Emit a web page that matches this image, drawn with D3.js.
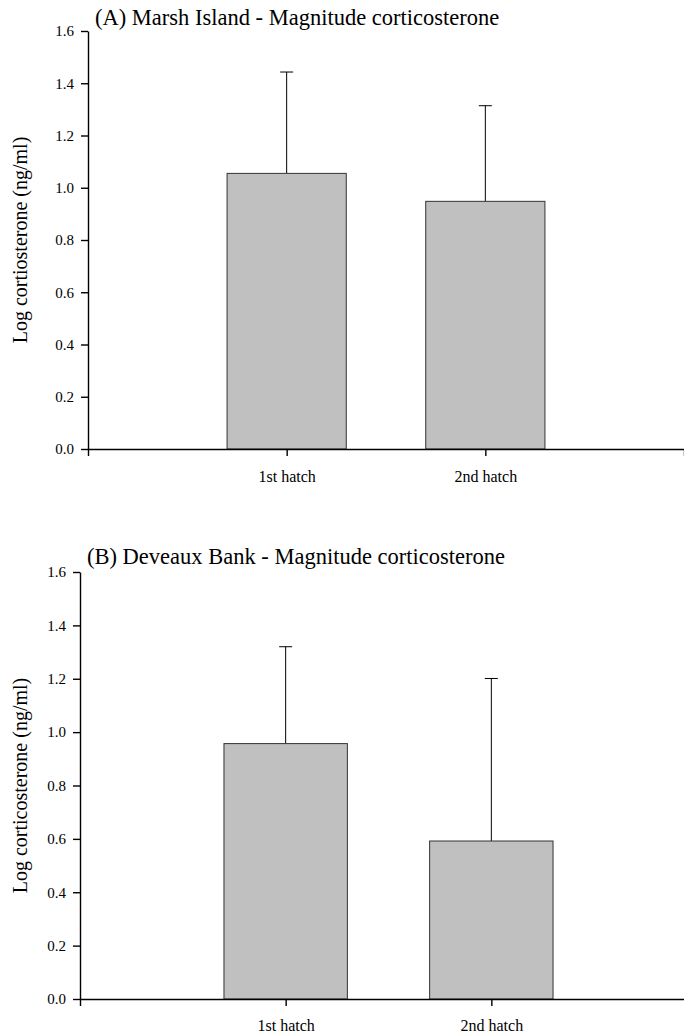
<!DOCTYPE html>
<html>
<head>
<meta charset="utf-8">
<script src="https://cdn.jsdelivr.net/npm/d3@7"></script>
<style>
  body { margin: 0; background: #fff; }
  svg { display: block; }
</style>
</head>
<body>
<svg id="svg"></svg>
<script>
// values
const hatches = ["1st hatch", "2nd hatch"];
const yTicks = [0, 0.2, 0.4, 0.6, 0.8, 1.0, 1.2, 1.4, 1.6];

const marshMeans = [1.055, 0.948];
const marshUpper = [1.443, 1.314];

const deveauxMeans = [0.957, 0.592];
const deveauxUpper = [1.320, 1.201];

const panels = [
  {title: "(A) Marsh Island - Magnitude corticosterone", ylabel: "Log cortiosterone (ng/ml)",
   means: marshMeans, upper: marshUpper,
   left: 88, right: 684, top: 31, bottom: 449, titleX: 95, titleY: 25, labelX: 27, xPad: 15},
  {title: "(B) Deveaux Bank - Magnitude corticosterone", ylabel: "Log corticosterone (ng/ml)",
   means: deveauxMeans, upper: deveauxUpper,
   left: 80, right: 697, top: 572, bottom: 999, titleX: 87, titleY: 564, labelX: 27, xPad: 14}
];

const width = 684, height = 1036;
const font = "'Liberation Serif', 'Times New Roman', serif";

let svg = d3.select("#svg").attr("width", width).attr("height", height);

for (let p of panels) {

  let data = hatches.map((h, i) => ({hatch: h, mean: p.means[i], upper: p.upper[i]}));

  let x = d3.scalePoint()
            .domain(hatches)
            .range([p.left, p.right])
            .padding(1);

  let y = d3.scaleLinear()
            .domain([0, 1.6])
            .range([p.bottom, p.top]);

  let barW = x.step() * 0.6;
  let capW = 13;

  let g = svg.append("g");

  // error bars (upper only) drawn behind bars
  g.selectAll(".err")
   .data(data)
   .join("line")
   .attr("x1", d => x(d.hatch))
   .attr("x2", d => x(d.hatch))
   .attr("y1", d => y(d.mean))
   .attr("y2", d => y(d.upper))
   .attr("stroke", "#000")
   .attr("stroke-width", 1);

  g.selectAll(".cap")
   .data(data)
   .join("line")
   .attr("x1", d => x(d.hatch) - capW / 2)
   .attr("x2", d => x(d.hatch) + capW / 2)
   .attr("y1", d => y(d.upper))
   .attr("y2", d => y(d.upper))
   .attr("stroke", "#000")
   .attr("stroke-width", 1);

  g.selectAll(".bar")
   .data(data)
   .join("rect")
   .attr("x", d => x(d.hatch) - barW / 2)
   .attr("y", d => y(d.mean))
   .attr("width", barW)
   .attr("height", d => y(0) - y(d.mean))
   .attr("fill", "#c0c0c0")
   .attr("stroke", "#333")
   .attr("stroke-width", 1);

  let yAxis = g.append("g")
     .attr("transform", `translate(${p.left},0)`)
     .call(d3.axisLeft(y).tickValues(yTicks).tickFormat(d3.format(".1f")).tickSize(7).tickSizeOuter(0).tickPadding(7));

  let xAxis = g.append("g")
     .attr("transform", `translate(0,${p.bottom})`)
     .call(d3.axisBottom(x).tickSize(7).tickSizeOuter(7).tickPadding(p.xPad));

  for (let ax of [xAxis, yAxis]) {
    ax.attr("font-family", font);
    ax.selectAll("path, line").attr("stroke", "#000").attr("stroke-width", 1.4);
    ax.selectAll("text").attr("fill", "#000");
  }
  yAxis.attr("font-size", 15);
  xAxis.attr("font-size", 16);

  g.append("text")
   .attr("x", p.titleX)
   .attr("y", p.titleY)
   .attr("font-family", font)
   .attr("font-size", 22.5)
   .text(p.title);

  g.append("text")
   .attr("transform", `translate(${p.labelX},${(p.top + p.bottom) / 2}) rotate(-90)`)
   .attr("text-anchor", "middle")
   .attr("font-family", font)
   .attr("font-size", 20)
   .text(p.ylabel);
}
</script>
</body>
</html>
